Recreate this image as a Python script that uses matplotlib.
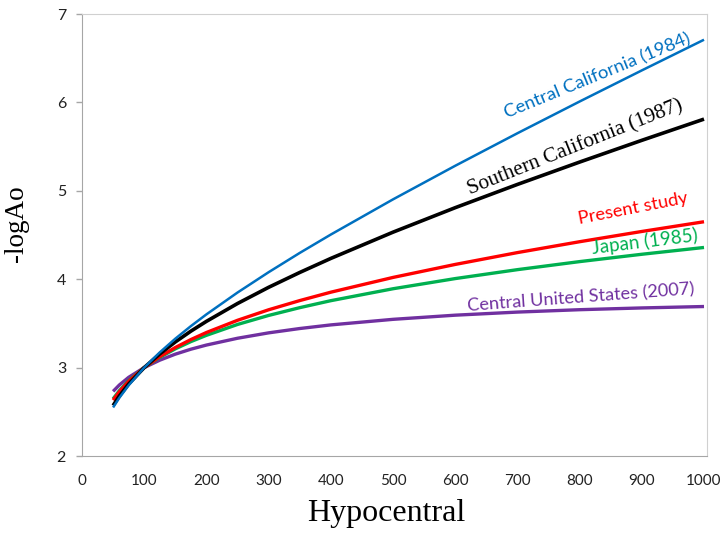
import numpy as np
import matplotlib
matplotlib.use('Agg')
import matplotlib.pyplot as plt
import matplotlib.ticker as ticker

# distancia hipocentral (km)
dist = [50, 60, 75, 100, 125, 150, 175, 200, 250, 300, 350, 400, 500, 600, 700, 800, 900, 1000]

# curvas -logAo
central_california = [2.549, 2.658, 2.800, 3.000, 3.172, 3.327, 3.469, 3.602, 3.849, 4.079, 4.297,
                      4.505, 4.903, 5.283, 5.651, 6.010, 6.362, 6.709]
southern_california = [2.571, 2.678, 2.814, 3.000, 3.155, 3.290, 3.412, 3.523, 3.725, 3.908, 4.076,
                       4.235, 4.532, 4.809, 5.072, 5.325, 5.571, 5.811]
present_study = [2.632, 2.727, 2.845, 3.000, 3.124, 3.227, 3.317, 3.397, 3.535, 3.654, 3.758,
                 3.853, 4.020, 4.167, 4.301, 4.424, 4.540, 4.650]
japan = [2.647, 2.739, 2.853, 3.000, 3.116, 3.212, 3.294, 3.365, 3.488, 3.590, 3.678,
         3.757, 3.892, 4.007, 4.108, 4.199, 4.282, 4.359]
central_us = [2.731, 2.803, 2.890, 3.000, 3.084, 3.152, 3.208, 3.255, 3.332, 3.393, 3.442,
              3.483, 3.546, 3.593, 3.628, 3.655, 3.675, 3.691]

fig = plt.figure(figsize=(7.24, 5.37), dpi=100)
ax = fig.add_axes([82/724, 1-456/537, 625/724, 442/537])

ax.plot(dist, central_us, color='#7030A0', lw=2.4, solid_capstyle='butt')
ax.plot(dist, japan, color='#00B050', lw=2.4, solid_capstyle='butt')
ax.plot(dist, present_study, color='#FF0000', lw=2.4, solid_capstyle='butt')
ax.plot(dist, southern_california, color='#000000', lw=2.6, solid_capstyle='butt')
ax.plot(dist, central_california, color='#0070C0', lw=1.8, solid_capstyle='butt')

ax.set_xlim(0, 1004.8)
ax.set_ylim(2, 7)

ax.xaxis.set_major_locator(ticker.MultipleLocator(100))
ax.xaxis.set_minor_locator(ticker.MultipleLocator(500))
ax.yaxis.set_major_locator(ticker.MultipleLocator(1))

ax.tick_params(axis='x', which='major', length=0, pad=13, labelsize=11, labelcolor='#222222')
ax.tick_params(axis='x', which='minor', length=4.5, color='#A6A6A6', width=1)
ax.tick_params(axis='y', which='major', length=4.5, color='#A6A6A6', width=1, pad=7,
               labelsize=11.5, labelcolor='#222222')
for lab in ax.get_xticklabels() + ax.get_yticklabels():
    lab.set_family('Lato')

ax.spines['left'].set_color('#A6A6A6')
ax.spines['bottom'].set_color('#A6A6A6')
ax.spines['top'].set_color('#D0D0D0')
ax.spines['right'].set_color('#D0D0D0')

ax.set_xlabel('Hypocentral', family='Liberation Serif', fontsize=23)
ax.set_ylabel('-logAo', family='Liberation Serif', fontsize=19.5)
ax.xaxis.set_label_coords(0.487, -0.097)
ax.yaxis.set_label_coords(-0.085, 0.525)

# etiquetas de cada curva
ax.text(683, 5.82, 'Central California (1984)', color='#0070C0', fontsize=13.3, family='Lato',
        rotation=22.3, rotation_mode='anchor', ha='left', va='baseline')
ax.text(624, 4.96, 'Southern California (1987)', color='black', fontsize=15.3, family='Liberation Serif',
        rotation=21.8, rotation_mode='anchor', ha='left', va='baseline')
ax.text(800, 4.62, 'Present study', color='#FF0000', fontsize=13.2, family='Lato',
        rotation=11, rotation_mode='anchor', ha='left', va='baseline')
ax.text(821, 4.285, 'Japan (1985)', color='#00B050', fontsize=13.5, family='Lato',
        rotation=7, rotation_mode='anchor', ha='left', va='baseline')
ax.text(620, 3.64, 'Central United States (2007)', color='#7030A0', fontsize=13.1, family='Lato',
        rotation=4.3, rotation_mode='anchor', ha='left', va='baseline')

fig.savefig('out.png', dpi=100)
